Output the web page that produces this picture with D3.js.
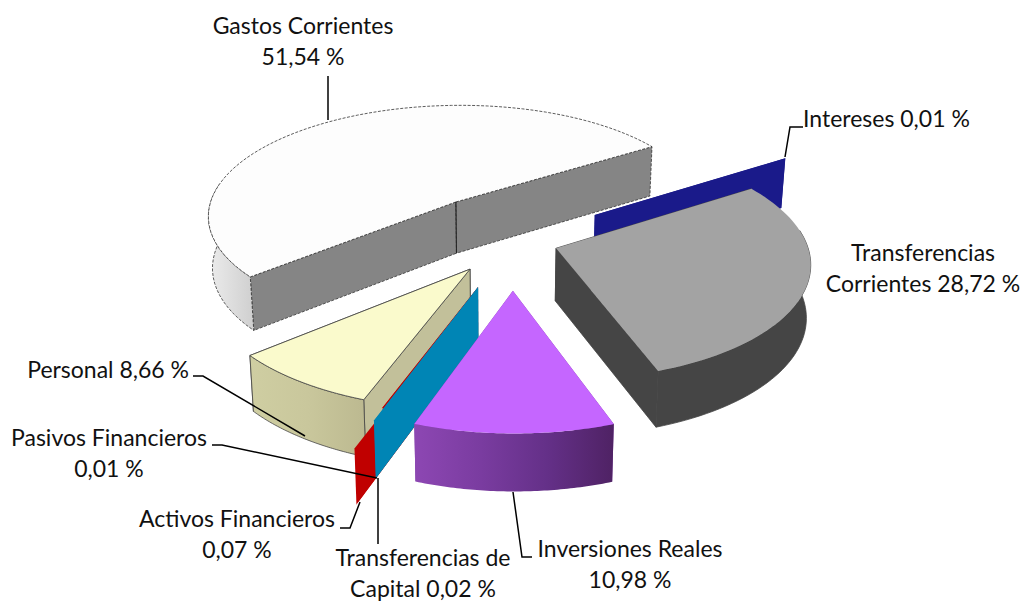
<!DOCTYPE html>
<html><head><meta charset="utf-8">
<script src="https://cdn.jsdelivr.net/npm/d3@7"></script>
<style>html,body{margin:0;padding:0;background:#fff}svg{display:block}text{font-family:Lato,"Open Sans",sans-serif;font-size:23px;fill:#111}</style>
</head><body><svg id="c" width="1023" height="602"></svg>
<script>
const categories = ["Gastos Corrientes","Intereses","Transferencias Corrientes","Inversiones Reales","Transferencias de Capital","Activos Financieros","Pasivos Financieros","Personal"];
const values = [51.54,0.01,28.72,10.98,0.02,0.07,0.01,8.66];
const valueLabels = ["51,54 %","0,01 %","28,72 %","10,98 %","0,02 %","0,07 %","0,01 %","8,66 %"];

// layout of the exploded slices on the pie's plane (unit = pie radius)
const explodeX = [-.18,.381,.218,.048,-.082,-.126,-.082,-.114];
const explodeY = [-.5,-.38,-.09,.255,.225,.38,.225,.083];
const radiusK  = [1,1,.98,.975,.985,1,.9,1];
const topFill  = ["#fdfdfd","#1a1a8a","#a3a3a3","#c566ff","#0085b5","#c00000","#c00000","#fafacc"];
const wallFill = ["#858585","#1a1a8a","#454545","#7a3ca0","#0085b5","#c00000","#c00000","#c2c09a"];
const outerFill= ["url(#gG)","#1a1a8a","#454545","url(#gI)","#0085b5","#c00000","#c00000","url(#gP)"];
const stroke   = ["#333",null,"#454545",null,null,null,null,"#444"];

const cx=500, cy=259, f=260, k=.465, p=.12, depth=53;
const proj=(X,Y,z)=>{
  const w=1-p*Y, dz=z*depth/(1-.07*Y), sh=1-.014*z;
  return [cx+(f*X/w)*sh, cy+f*k*Y/w+dz];
};
const svg=d3.select("#c"), defs=svg.append("defs");
const grad=(id,stops)=>{const g=defs.append("linearGradient").attr("id",id);
  stops.forEach((c,i)=>g.append("stop").attr("offset",i/(stops.length-1)).attr("stop-color",c));};
grad("gG",["#ececec","#cfcfcf"]);
grad("gI",["#8d47b3","#7a3ca0","#643088","#4f2264"]);
grad("gP",["#cfcea2","#c9c79c","#bcb990"]);

const rad=Math.PI/180, start=231.4*rad;
const arcs=d3.pie().sort(null).startAngle(start).endAngle(start+2*Math.PI)(values);
// small drawing corrections (degrees) of the shared Personal / Gastos boundary
const startShift=[-1.6,0,0,0,0,0,0,0], endShift=[0,0,0,0,0,0,0,-1.6];
const line=d3.line();

// the red wall must not show below the lower edge of the Capital wall in front of it
{
  const t=arcs[4].startAngle, r=radiusK[4], x0=explodeX[4], y0=explodeY[4];
  const a=proj(x0,y0,1), b=proj(x0+r*Math.sin(t),y0-r*Math.cos(t),1);
  const e=[a[0]+(b[0]-a[0])*1.4,a[1]+(b[1]-a[1])*1.4];
  defs.append("clipPath").attr("id","abovePlane").append("path")
    .attr("d",line([a,e,[e[0]-200,e[1]],[e[0]-200,0],[a[0],0]])+"Z");
}

const order=[0,1,2,7,6,5,4,3];
const g=svg.append("g");
order.forEach(i=>{
  const a0=arcs[i].startAngle+startShift[i]*rad, a1=arcs[i].endAngle+endShift[i]*rad;
  const x0=explodeX[i], y0=explodeY[i], r=radiusK[i];
  const pt=(t,z)=>proj(x0+r*Math.sin(t),y0-r*Math.cos(t),z);
  const ts=d3.range(0,61).map(j=>a0+(a1-a0)*j/60);
  const ap0=proj(x0,y0,0), ap1=proj(x0,y0,1);
  const sliver=values[i]<1;
  const sw=stroke[i]?.8:0, dash=i===0?"3 1.5":null, st=stroke[i]||"none";
  const wall=t=>g.append("path").attr("d",line([ap0,pt(t,0),pt(t,1),ap1])+"Z")
      .attr("fill",wallFill[i]).attr("stroke",st).attr("stroke-width",sw).attr("stroke-dasharray",dash)
      .attr("clip-path",(i===5||i===6)?"url(#abovePlane)":null);
  // the wall further from the viewer goes first
  [a0,a1].sort((m,n)=>Math.cos(n)-Math.cos(m)).forEach(wall);
  if(!sliver){
    // only the part of the rim that faces the viewer
    const front=ts.filter(t=>{const d=((t/rad)%360+360)%360;return d>=80&&d<=280;});
    g.append("path").attr("d",line(front.map(t=>pt(t,0)).concat(front.slice().reverse().map(t=>pt(t,1))))+"Z")
      .attr("fill",outerFill[i]).attr("stroke",st).attr("stroke-width",sw).attr("stroke-dasharray",dash);
    g.append("path").attr("d",line([ap0].concat(ts.map(t=>pt(t,0))))+"Z")
      .attr("fill",topFill[i]).attr("stroke",i===2?"none":st).attr("stroke-width",sw).attr("stroke-dasharray",dash);
  }
  if(i===0){ g.append("line").attr("x1",ap0[0]).attr("y1",ap0[1]).attr("x2",ap1[0]).attr("y2",ap1[1]).attr("stroke","#222").attr("stroke-width",1); }
});

// leader lines
const leaders=[
 [[328,76],[328,120]],
 [[803,127],[790,127],[785,157]],
 [[193,376],[203,376],[305,436]],
 [[212,445],[222,445],[377,478]],
 [[340,528],[350,528],[360,502]],
 [[378,478],[378,544]],
 [[513,492],[522,557],[532,557]]
];
svg.append("g").selectAll("path").data(leaders).join("path").attr("d",d=>line(d))
  .attr("fill","none").attr("stroke","#000").attr("stroke-width",1.5);

// labels: [lines, anchor, x, first baseline]
const labels=[
 [[categories[0],valueLabels[0]],"middle",303,34],
 [[categories[1]+" "+valueLabels[1]],"start",803,127],
 [["Transferencias","Corrientes "+valueLabels[2]],"middle",923,261],
 [[categories[3],valueLabels[3]],"middle",630,557],
 [["Transferencias de","Capital "+valueLabels[4]],"middle",423,566],
 [[categories[5],valueLabels[5]],"middle",237,527],
 [[categories[6],valueLabels[6]],"middle",109,446],
 [[categories[7]+" "+valueLabels[7]],"end",189,378]
];
labels.forEach(([ls,an,x,y])=>ls.forEach((s,j)=>svg.append("text").attr("x",x).attr("y",y+j*31).attr("text-anchor",an).text(s)));
</script></body></html>
